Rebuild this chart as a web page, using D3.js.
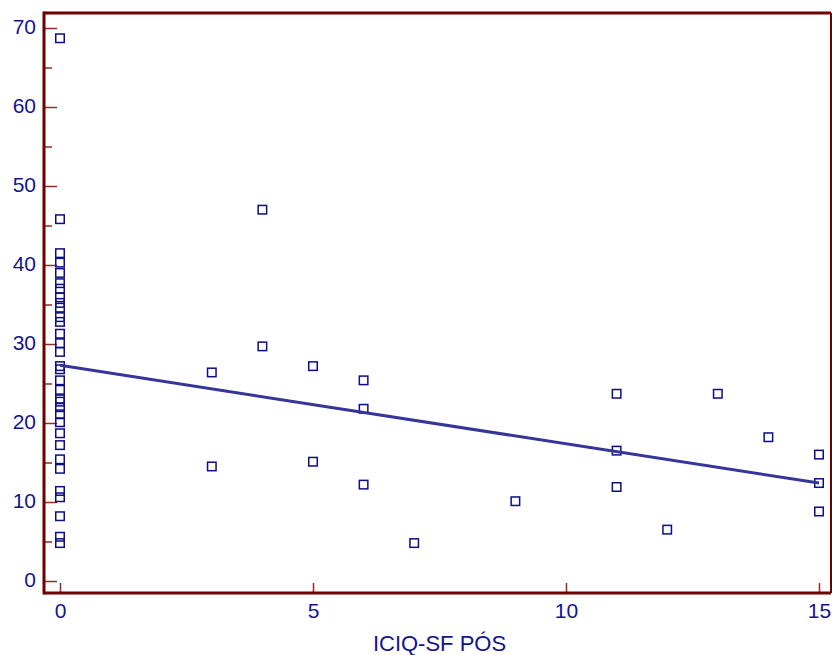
<!DOCTYPE html>
<html>
<head>
<meta charset="utf-8">
<script src="https://cdn.jsdelivr.net/npm/d3@7"></script>
<style>
  body { margin: 0; background: #fff; }
  svg { display: block; font-family: "Liberation Sans", Arial, sans-serif; }
</style>
</head>
<body>
<div id="chart"></div>
<script>
// ICIQ-SF PÓS scores (x) and the measured value (y), one entry per subject
const iciqPos = [
  0, 0, 0, 0, 0, 0, 0, 0, 0, 0, 0, 0, 0, 0, 0, 0, 0,
  0, 0, 0, 0, 0, 0, 0, 0, 0, 0, 0, 0, 0, 0, 0, 0,
  3, 3, 4, 4, 5, 5, 6, 6, 6, 7, 9, 11, 11, 11, 12, 13, 14, 15, 15, 15
];
const yValues = [
  68.7, 45.8, 41.5, 40.3, 39.0, 37.7, 37.0, 35.9, 35.2, 34.6, 33.4, 32.8, 31.3, 30.1, 29.0, 27.2, 26.8,
  25.4, 24.2, 23.0, 22.7, 22.0, 21.1, 20.1, 18.7, 17.2, 15.4, 14.2, 11.4, 10.6, 8.2, 5.6, 4.8,
  26.4, 14.5, 47.0, 29.7, 27.2, 15.1, 25.4, 21.8, 12.2, 4.8, 10.1, 23.7, 16.5, 11.9, 6.5, 23.7, 18.2, 16.0, 12.4, 8.8
];
// regression line end points
const fitX = [0, 15];
const fitY = [27.3, 12.4];

const xTicks = [0, 5, 10, 15];
const yTicks = [0, 10, 20, 30, 40, 50, 60, 70];
const yMinorTicks = [5, 15, 25, 35, 45, 55, 65];

const width = 832, height = 655;
const frameL = 44, frameR = 831, frameT = 13, frameB = 593;

const x = d3.scaleLinear().domain([0, 15]).range([60, 819]);
const y = d3.scaleLinear().domain([0, 70]).range([581, 28]);

const svg = d3.select('#chart').append('svg')
  .attr('width', width)
  .attr('height', height);

const axisColor = '#6e0000';
const tickColor = '#962a2a';
const textColor = '#14148a';

// y axis: inward ticks, labels to the left
const yAxis = svg.append('g')
  .attr('transform', `translate(${frameL},0)`)
  .call(d3.axisLeft(y).tickValues(yTicks).tickSize(-13).tickPadding(8));
yAxis.select('.domain').remove();
yAxis.selectAll('line').attr('stroke', tickColor).attr('stroke-width', 1.5);
yAxis.selectAll('text')
  .attr('fill', textColor)
  .attr('dy', '0.24em')
  .style('font-size', '21px');

const yMinor = svg.append('g')
  .attr('transform', `translate(${frameL},0)`)
  .call(d3.axisLeft(y).tickValues(yMinorTicks).tickSize(-8).tickFormat(''));
yMinor.select('.domain').remove();
yMinor.selectAll('line').attr('stroke', tickColor).attr('stroke-width', 1.5);

// x axis: ticks pointing up
const xAxis = svg.append('g')
  .attr('transform', `translate(0,${frameB})`)
  .call(d3.axisBottom(x).tickValues(xTicks).tickSize(-10).tickPadding(10));
xAxis.select('.domain').remove();
xAxis.selectAll('line').attr('stroke', tickColor).attr('stroke-width', 1.5);
xAxis.selectAll('text')
  .attr('fill', textColor)
  .style('font-size', '21px');

// frame
svg.append('line').attr('x1', frameL).attr('x2', frameR).attr('y1', frameT).attr('y2', frameT)
  .attr('stroke', axisColor).attr('stroke-width', 3);
svg.append('line').attr('x1', frameR).attr('x2', frameR).attr('y1', frameT).attr('y2', frameB)
  .attr('stroke', axisColor).attr('stroke-width', 2);
svg.append('line').attr('x1', frameL).attr('x2', frameL).attr('y1', frameT - 1.5).attr('y2', frameB + 1.5)
  .attr('stroke', axisColor).attr('stroke-width', 3);
svg.append('line').attr('x1', frameL).attr('x2', frameR).attr('y1', frameB).attr('y2', frameB)
  .attr('stroke', axisColor).attr('stroke-width', 3);

// points
const s = 8.5;
svg.append('g')
  .selectAll('rect')
  .data(iciqPos.map((d, i) => ({x: d, y: yValues[i]})))
  .enter()
  .append('rect')
  .attr('x', d => x(d.x) - s / 2)
  .attr('y', d => y(d.y) - s / 2)
  .attr('width', s)
  .attr('height', s)
  .attr('fill', 'none')
  .attr('stroke', '#0d0d8a')
  .attr('stroke-width', 1.5);

// regression line
const line = d3.line().x(d => x(d[0])).y(d => y(d[1]));
svg.append('path')
  .datum(fitX.map((d, i) => [d, fitY[i]]))
  .attr('d', line)
  .attr('fill', 'none')
  .attr('stroke', '#35359a')
  .attr('stroke-width', 3);

// axis title
svg.append('text')
  .attr('x', (frameL + frameR) / 2 + 2)
  .attr('y', 651)
  .attr('text-anchor', 'middle')
  .attr('fill', textColor)
  .style('font-size', '22px')
  .text('ICIQ-SF PÓS');
</script>
</body>
</html>
